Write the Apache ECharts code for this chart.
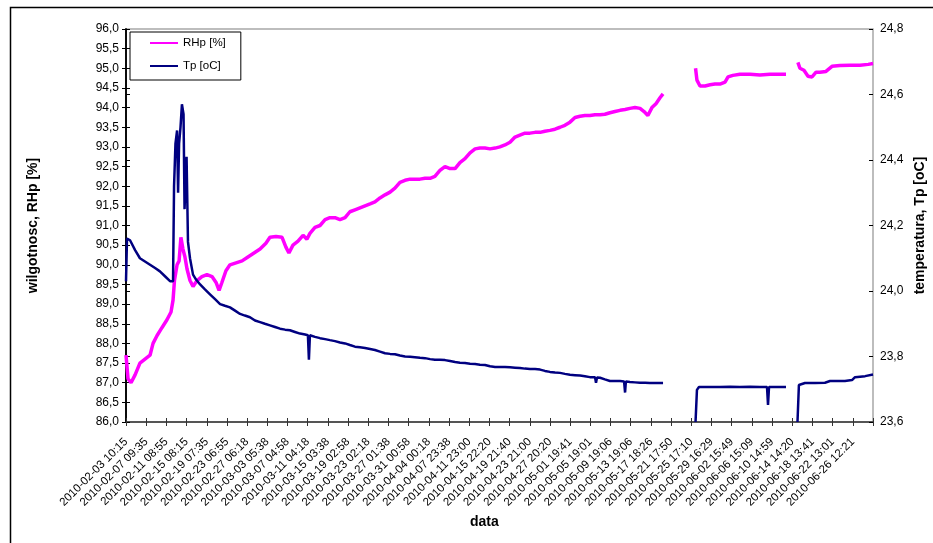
<!DOCTYPE html>
<html>
<head>
<meta charset="utf-8">
<script src="https://cdn.jsdelivr.net/npm/echarts@6/dist/echarts.min.js"></script>
<style>
html,body{margin:0;padding:0;background:#fff;}
#chart{width:933px;height:543px;}
</style>
</head>
<body>
<div id="chart"></div>
<script>
// Category tick labels (one per 4-day step of the Excel category axis)
const tickLabels = [
"2010-02-03 10:15","2010-02-07 09:35","2010-02-11 08:55","2010-02-15 08:15","2010-02-19 07:35",
"2010-02-23 06:55","2010-02-27 06:18","2010-03-03 05:38","2010-03-07 04:58","2010-03-11 04:18",
"2010-03-15 03:38","2010-03-19 02:58","2010-03-23 02:18","2010-03-27 01:38","2010-03-31 00:58",
"2010-04-04 00:18","2010-04-07 23:38","2010-04-11 23:00","2010-04-15 22:20","2010-04-19 21:40",
"2010-04-23 21:00","2010-04-27 20:20","2010-05-01 19:41","2010-05-05 19:01","2010-05-09 19:06",
"2010-05-13 19:06","2010-05-17 18:26","2010-05-21 17:50","2010-05-25 17:10","2010-05-29 16:29",
"2010-06-02 15:49","2010-06-06 15:09","2010-06-10 14:59","2010-06-14 14:20","2010-06-18 13:41",
"2010-06-22 13:01","2010-06-26 12:21"
];

// RHp [%] — sample position (in category-label steps) and value
const rhPos = [0,0.10,0.25,0.45,0.69,0.94,1.19,1.34,1.54,1.78,2.03,2.23,2.33,2.40,2.53,2.63,2.72,2.82,2.92,3.02,3.17,3.32,3.52,3.76,4.01,4.26,4.46,4.61,4.75,4.95,5.15,5.45,5.75,6.04,6.34,6.64,6.93,7.13,7.43,7.73,7.92,8.07,8.27,8.52,8.77,8.96,9.11,9.36,9.61,9.86,10.10,10.35,10.60,10.85,11.09,11.34,11.59,11.84,12.09,12.33,12.58,12.83,13.08,13.32,13.57,13.82,14.07,14.31,14.56,14.81,15.06,15.30,15.55,15.80,16.05,16.30,16.54,16.79,17.04,17.29,17.53,17.78,18.03,18.28,18.52,18.77,19.02,19.27,19.51,19.76,20.01,20.26,20.51,20.75,21.00,21.25,21.50,21.74,21.99,22.24,22.49,22.73,22.98,23.23,23.48,23.72,23.97,24.22,24.47,24.72,24.96,25.21,25.46,25.66,25.85,26.05,26.25,26.45,26.60,27.40,28.21,28.28,28.43,28.68,28.93,29.17,29.42,29.67,29.82,30.06,30.41,30.91,31.40,31.90,32.39,32.69,33.00,33.28,33.38,33.58,33.78,33.98,34.18,34.37,34.67,34.97,35.36,35.86,36.36,36.76,37.00];
const rhVal = [87.7,87.1,87.0,87.2,87.5,87.6,87.7,88.0,88.2,88.4,88.6,88.8,89.1,89.6,90.0,90.1,90.7,90.4,90.2,89.9,89.6,89.45,89.6,89.7,89.75,89.7,89.55,89.35,89.55,89.85,90.0,90.05,90.1,90.2,90.3,90.4,90.55,90.7,90.72,90.7,90.45,90.3,90.5,90.6,90.75,90.65,90.8,90.95,91.0,91.15,91.2,91.2,91.15,91.2,91.35,91.4,91.45,91.5,91.55,91.6,91.7,91.78,91.85,91.95,92.1,92.15,92.18,92.18,92.18,92.2,92.2,92.25,92.4,92.5,92.45,92.45,92.6,92.7,92.85,92.95,92.97,92.97,92.95,92.97,93.0,93.05,93.12,93.25,93.3,93.35,93.35,93.37,93.37,93.4,93.42,93.45,93.5,93.55,93.63,93.75,93.78,93.8,93.8,93.82,93.82,93.83,93.87,93.9,93.93,93.95,93.98,94.0,93.98,93.9,93.8,94.0,94.1,94.25,94.35,null,95.0,94.7,94.55,94.55,94.58,94.6,94.6,94.65,94.78,94.82,94.85,94.85,94.83,94.85,94.85,94.85,null,95.15,95.0,94.95,94.8,94.78,94.9,94.9,94.92,95.05,95.07,95.08,95.08,95.1,95.12];

// Tp [oC] — sample position and value
const tpPos = [0,0.05,0.20,0.45,0.69,0.94,1.19,1.44,1.68,1.93,2.18,2.33,2.38,2.45,2.53,2.58,2.63,2.70,2.77,2.85,2.90,3.00,3.07,3.17,3.32,3.47,3.67,3.91,4.16,4.41,4.66,4.90,5.15,5.40,5.65,5.89,6.14,6.39,6.64,6.88,7.13,7.38,7.63,7.88,8.12,8.37,8.62,8.87,9.01,9.06,9.11,9.36,9.61,9.86,10.10,10.35,10.60,10.85,11.09,11.34,11.59,11.84,12.09,12.33,12.58,12.83,13.08,13.32,13.57,13.82,14.07,14.31,14.56,14.81,15.06,15.30,15.55,15.80,16.05,16.30,16.54,16.79,17.04,17.29,17.53,17.78,18.03,18.28,18.52,18.77,19.02,19.27,19.51,19.76,20.01,20.26,20.51,20.75,21.00,21.25,21.50,21.74,21.99,22.24,22.49,22.73,22.98,23.23,23.28,23.33,23.48,23.72,23.97,24.22,24.47,24.67,24.72,24.76,24.96,25.21,25.46,25.71,25.95,26.20,26.45,26.60,27.40,28.21,28.28,28.38,28.93,29.42,29.92,30.41,30.91,31.40,31.75,31.80,31.85,32.39,32.69,33.00,33.26,33.33,33.63,34.13,34.62,34.87,35.61,35.96,36.11,36.61,37.00];
const tpVal = [24.03,24.16,24.155,24.125,24.10,24.09,24.08,24.07,24.06,24.045,24.03,24.03,24.32,24.45,24.49,24.30,24.45,24.50,24.57,24.54,24.25,24.41,24.15,24.10,24.05,24.035,24.02,24.005,23.99,23.975,23.96,23.955,23.95,23.94,23.93,23.925,23.92,23.91,23.905,23.90,23.895,23.89,23.885,23.882,23.88,23.875,23.87,23.867,23.865,23.79,23.865,23.86,23.856,23.853,23.85,23.847,23.843,23.84,23.835,23.83,23.828,23.826,23.823,23.82,23.815,23.81,23.808,23.807,23.803,23.80,23.799,23.798,23.796,23.795,23.792,23.79,23.79,23.789,23.786,23.783,23.781,23.78,23.778,23.777,23.775,23.774,23.77,23.768,23.768,23.768,23.767,23.766,23.765,23.763,23.762,23.762,23.76,23.756,23.753,23.751,23.75,23.747,23.744,23.743,23.742,23.74,23.737,23.737,23.72,23.736,23.735,23.73,23.725,23.725,23.725,23.724,23.69,23.724,23.722,23.721,23.72,23.72,23.719,23.719,23.719,23.719,null,23.60,23.698,23.707,23.707,23.707,23.708,23.707,23.708,23.707,23.707,23.652,23.707,23.707,23.707,null,23.60,23.713,23.719,23.719,23.72,23.725,23.725,23.728,23.737,23.74,23.745];

const rhData = rhPos.map((p, i) => [p, rhVal[i]]);
const tpData = tpPos.map((p, i) => [p, tpVal[i]]);

const FONT = '"Liberation Sans", Arial, sans-serif';
const comma = v => v.toFixed(1).replace('.', ',');
const nameStyle = {fontFamily: FONT, fontSize: 14, fontWeight: 'bold', color: '#000'};

const chart = echarts.init(document.getElementById('chart'), null, {renderer: 'canvas'});
chart.setOption({
  animation: false,
  backgroundColor: '#fff',
  textStyle: {fontFamily: FONT},
  graphic: [{
    type: 'rect', left: 8, top: 5, shape: {width: 940, height: 560},
    style: {fill: 'none', stroke: '#000', lineWidth: 1.5}, silent: true, z: 0
  }, {
    type: 'text', left: 470, top: 515, silent: true,
    style: {text: 'data', font: 'bold 14px ' + FONT, fill: '#000'}
  }],
  grid: {left: 126, top: 29, right: 60, bottom: 121, show: true, borderColor: '#a8a8a8', borderWidth: 1.5,
         containLabel: false, outerBoundsMode: 'none'},
  legend: {
    orient: 'vertical', left: 130, top: 32,
    data: ['RHp [%]', 'Tp [oC]'],
    backgroundColor: '#fff', borderColor: '#000', borderWidth: 1,
    padding: [5, 15, 8, 20], itemGap: 11, itemWidth: 28, itemHeight: 2,
    icon: 'rect',
    textStyle: {fontFamily: FONT, fontSize: 11.5, color: '#000'}
  },
  xAxis: [{
    type: 'value', min: 0, max: 37, interval: 1,
    axisLine: {onZero: false, lineStyle: {color: '#333', width: 1.5}},
    axisTick: {length: 4, lineStyle: {color: '#333'}},
    splitLine: {show: false},
    axisLabel: {
      rotate: 45, margin: 18, fontSize: 11.5, color: '#000', fontFamily: FONT,
      formatter: v => tickLabels[Math.round(v)] || '',
      showMaxLabel: true
    }
  }, {
    type: 'value', min: 0, max: 37, interval: 1, position: 'bottom',
    axisLine: {show: false}, axisLabel: {show: false}, splitLine: {show: false},
    axisTick: {show: true, inside: true, length: 4, lineStyle: {color: '#333'}}
  }],
  yAxis: [{
    type: 'value', min: 86, max: 96, interval: 0.5, position: 'left',
    axisLine: {show: true, lineStyle: {color: '#000', width: 1.5}},
    axisTick: {show: true, length: 4, lineStyle: {color: '#000'}},
    splitLine: {show: false},
    axisLabel: {fontSize: 12, color: '#000', margin: 7, fontFamily: FONT, formatter: comma}
  }, {
    type: 'value', min: 23.6, max: 24.8, interval: 0.2, position: 'right',
    axisLine: {show: true, lineStyle: {color: '#000', width: 1.5}},
    axisTick: {show: true, length: 4, lineStyle: {color: '#000'}},
    splitLine: {show: false},
    axisLabel: {fontSize: 12, color: '#000', margin: 7, fontFamily: FONT, formatter: comma}
  }, {
    type: 'value', min: 86, max: 96, interval: 0.5, position: 'left',
    name: 'wilgotnosc, RHp [%]', nameLocation: 'middle', nameGap: 86, nameRotate: 90,
    nameTextStyle: nameStyle,
    axisLine: {show: false}, axisLabel: {show: false}, splitLine: {show: false},
    axisTick: {show: true, inside: true, length: 4, lineStyle: {color: '#000'}}
  }, {
    type: 'value', min: 23.6, max: 24.8, interval: 0.2, position: 'right',
    name: 'temperatura, Tp [oC]', nameLocation: 'middle', nameGap: 40, nameRotate: 90,
    nameTextStyle: nameStyle,
    axisLine: {show: false}, axisLabel: {show: false}, splitLine: {show: false},
    axisTick: {show: true, inside: true, length: 4, lineStyle: {color: '#000'}}
  }],
  series: [{
    name: 'RHp [%]', type: 'line', xAxisIndex: 0, yAxisIndex: 0, data: rhData,
    showSymbol: false, connectNulls: false,
    itemStyle: {color: '#ff00ff'},
    lineStyle: {color: '#ff00ff', width: 3.5}
  }, {
    name: 'Tp [oC]', type: 'line', xAxisIndex: 0, yAxisIndex: 1, data: tpData,
    showSymbol: false, connectNulls: false,
    itemStyle: {color: '#000080'},
    lineStyle: {color: '#000080', width: 2.5}
  }]
});
</script>
</body>
</html>
